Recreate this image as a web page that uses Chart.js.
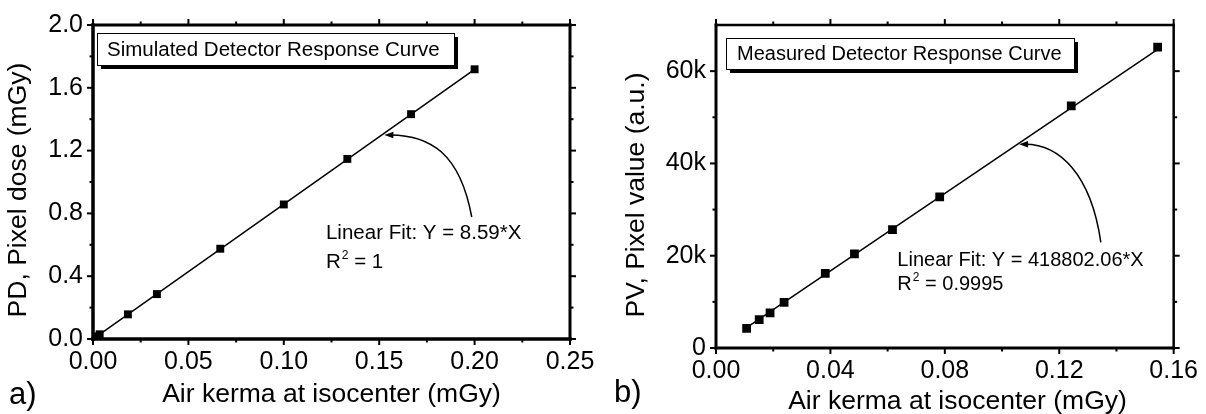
<!DOCTYPE html>
<html><head><meta charset="utf-8">
<script src="https://cdn.jsdelivr.net/npm/chart.js@4"></script>
<style>
html,body{margin:0;padding:0;background:#fff;}
#wrap{position:relative;width:1206px;height:414px;overflow:hidden;}
canvas{position:absolute;top:0;}
#c1{left:0;} #c2{left:603px;}
</style></head><body>
<div id="wrap"><canvas id="c1" width="603" height="414"></canvas><canvas id="c2" width="603" height="414"></canvas></div>
<script>
Chart.defaults.font.family = "'Liberation Sans', Arial, Helvetica, sans-serif";
Chart.defaults.color = '#000';

// ---------- Panel a) Simulated detector response ----------
const simKerma = [0.002, 0.0035, 0.0183, 0.0335, 0.0667, 0.1000, 0.1333, 0.1667, 0.2000];
const simDose  = [0.017, 0.030, 0.157, 0.286, 0.575, 0.857, 1.147, 1.432, 1.718];
const simFitKerma = [0.002, 0.2000];
const simFitDose  = [0.017, 1.718];
const simXRange = [0, 0.25];
const simYRange = [0, 2.0];
const simXTicks = [0, 0.05, 0.10, 0.15, 0.20, 0.25];
const simXTickLabels = ['0.00', '0.05', '0.10', '0.15', '0.20', '0.25'];
const simYTicks = [0, 0.4, 0.8, 1.2, 1.6, 2.0];
const simYTickLabels = ['0.0', '0.4', '0.8', '1.2', '1.6', '2.0'];

// ---------- Panel b) Measured detector response ----------
const measKerma = [0.0107, 0.0151, 0.0189, 0.0238, 0.0382, 0.0484, 0.0617, 0.0782, 0.1242, 0.1544];
const measPV    = [4230, 6140, 7620, 9880, 16150, 20380, 25670, 32740, 52490, 65190];
const measFitKerma = [0.0107, 0.1544];
const measFitPV    = [4400, 64700];
const measXRange = [0, 0.16];
const measYRange = [0, 70000];
const measXTicks = [0, 0.04, 0.08, 0.12, 0.16];
const measXTickLabels = ['0.00', '0.04', '0.08', '0.12', '0.16'];
const measYTicks = [0, 20000, 40000, 60000];
const measYTickLabels = ['0', '20k', '40k', '60k'];

function mids(arr) { const o = []; for (let i = 0; i < arr.length - 1; i++) o.push((arr[i] + arr[i + 1]) / 2); return o; }

const FONT = "'Liberation Sans', Arial, Helvetica, sans-serif";

function makeDecor(d) {
  return {
    id: 'decor',
    afterDraw(chart) {
      const ctx = chart.ctx, a = chart.chartArea, xs = chart.scales.x, ys = chart.scales.y;
      const X = v => xs.getPixelForValue(v), Y = v => ys.getPixelForValue(v);
      ctx.save();
      ctx.strokeStyle = '#000'; ctx.fillStyle = '#000';
      const seg = (x1, y1, x2, y2) => { ctx.beginPath(); ctx.moveTo(x1, y1); ctx.lineTo(x2, y2); ctx.stroke(); };
      // ticks on all four sides, pointing outward
      ctx.lineWidth = d.tickWidth; ctx.lineCap = 'butt';
      const xt = (vals, len) => vals.forEach(v => { const p = X(v); seg(p, a.bottom, p, a.bottom + len); seg(p, a.top, p, a.top - len); });
      const yt = (vals, len) => vals.forEach(v => { const p = Y(v); seg(a.left, p, a.left - len, p); seg(a.right, p, a.right + len, p); });
      xt(d.xMajor, d.majorLen); xt(mids(d.xMajor), d.minorLen);
      yt(d.yMajor, d.majorLen); yt(d.yMinor, d.minorLen);
      // frame
      ctx.lineCap = 'square';
      ctx.lineWidth = d.frame.top; seg(a.left, a.top, a.right, a.top);
      ctx.lineWidth = d.frame.right; seg(a.right, a.top, a.right, a.bottom);
      ctx.lineWidth = d.frame.left; seg(a.left, a.top, a.left, a.bottom);
      ctx.lineWidth = d.frame.bottom; seg(a.left, a.bottom, a.right, a.bottom);
      // legend-like title box with shadow
      const b = d.box, bx = a.left + b.dx, by = a.top + b.dy;
      ctx.fillStyle = '#000'; ctx.fillRect(bx + 4, by + 4, b.w, b.h);
      ctx.fillStyle = '#fff'; ctx.fillRect(bx, by, b.w, b.h);
      ctx.lineWidth = 1; ctx.strokeStyle = '#000';
      ctx.strokeRect(Math.round(bx) + 0.5, Math.round(by) + 0.5, b.w, b.h);
      ctx.fillStyle = '#000';
      ctx.font = b.font + 'px ' + FONT; ctx.textBaseline = 'middle'; ctx.textAlign = 'left';
      ctx.fillText(b.text, bx + b.pad, by + b.h / 2 + 1);
      // annotation text
      ctx.font = d.annFont + 'px ' + FONT;
      const t1 = d.ann.line1, t2 = d.ann.line2;
      ctx.fillText(t1.text, X(t1.x), Y(t1.y));
      let px = X(t2.x), py = Y(t2.y);
      ctx.fillText('R', px, py); px += ctx.measureText('R').width + 1;
      ctx.font = Math.round(d.annFont * 0.6) + 'px ' + FONT;
      ctx.fillText('2', px, py - 7); px += ctx.measureText('2').width;
      ctx.font = d.annFont + 'px ' + FONT;
      ctx.fillText(t2.rest, px, py);
      // curved arrow
      const P = d.arrow.map(p => [X(p[0]), Y(p[1])]);
      ctx.lineWidth = 1.5; ctx.lineCap = 'butt';
      ctx.beginPath(); ctx.moveTo(P[0][0], P[0][1]);
      ctx.bezierCurveTo(P[1][0], P[1][1], P[2][0], P[2][1], P[3][0] + 6, P[3][1]);
      ctx.stroke();
      const ang = Math.atan2(P[3][1] - P[2][1], P[3][0] - P[2][0]);
      const L = 9, W = 3.2;
      ctx.beginPath();
      ctx.moveTo(P[3][0], P[3][1]);
      ctx.lineTo(P[3][0] - L * Math.cos(ang) + W * Math.sin(ang), P[3][1] - L * Math.sin(ang) - W * Math.cos(ang));
      ctx.lineTo(P[3][0] - L * Math.cos(ang) - W * Math.sin(ang), P[3][1] - L * Math.sin(ang) + W * Math.cos(ang));
      ctx.closePath(); ctx.fill();
      // axis titles
      ctx.font = d.titleFont + 'px ' + FONT; ctx.textAlign = 'center'; ctx.textBaseline = 'middle';
      ctx.fillText(d.xTitle.text, d.xTitle.x, d.xTitle.y);
      ctx.save(); ctx.translate(d.yTitle.x, d.yTitle.y); ctx.rotate(-Math.PI / 2);
      ctx.fillText(d.yTitle.text, 0, 0); ctx.restore();
      // panel label
      ctx.font = d.panel.font + 'px ' + FONT; ctx.textAlign = 'left'; ctx.textBaseline = 'alphabetic';
      ctx.fillText(d.panel.text, d.panel.x, d.panel.y);
      ctx.restore();
    }
  };
}

function buildChart(id, cfg) {
  const pts = cfg.xs.map((x, i) => ({ x: x, y: cfg.ys[i] }));
  const fit = cfg.fx.map((x, i) => ({ x: x, y: cfg.fy[i] }));
  return new Chart(document.getElementById(id), {
    type: 'scatter',
    data: {
      datasets: [
        { type: 'line', data: fit, borderColor: '#000', borderWidth: 1.5, pointRadius: 0, showLine: true, fill: false, order: 2 },
        { data: pts, pointStyle: 'rect', pointRadius: cfg.pointRadius, backgroundColor: '#000', borderColor: '#000', borderWidth: 0, showLine: false, order: 1 }
      ]
    },
    options: {
      responsive: false, animation: false, events: [],
      layout: { padding: cfg.padding },
      plugins: { legend: { display: false }, tooltip: { enabled: false } },
      scales: {
        x: {
          type: 'linear', min: cfg.xRange[0], max: cfg.xRange[1],
          grid: { display: false, drawTicks: false }, border: { display: false },
          afterBuildTicks: s => { s.ticks = cfg.xTicks.map(v => ({ value: v })); },
          afterFit: s => { s.height = cfg.xAxisHeight; },
          ticks: { font: { size: 25 }, color: '#000', padding: 8, maxRotation: 0, autoSkip: false,
                   callback: (v, i) => cfg.xLabels[i] }
        },
        y: {
          type: 'linear', min: cfg.yRange[0], max: cfg.yRange[1],
          grid: { display: false, drawTicks: false }, border: { display: false },
          afterBuildTicks: s => { s.ticks = cfg.yTicks.map(v => ({ value: v })); },
          afterFit: s => { s.width = cfg.yAxisWidth; },
          ticks: { font: { size: 25 }, color: '#000', padding: 10, autoSkip: false,
                   callback: (v, i) => cfg.yLabels[i] }
        }
      }
    },
    plugins: [makeDecor(cfg.decor)]
  });
}

buildChart('c1', {
  xs: simKerma, ys: simDose, fx: simFitKerma, fy: simFitDose,
  xRange: simXRange, yRange: simYRange, xTicks: simXTicks, xLabels: simXTickLabels,
  yTicks: simYTicks, yLabels: simYTickLabels, pointRadius: 5.6,
  padding: { top: 20, right: 33, left: 0, bottom: 0 }, xAxisHeight: 75, yAxisWidth: 93,
  decor: {
    xMajor: simXTicks, yMajor: simYTicks, yMinor: mids(simYTicks),
    tickWidth: 2, majorLen: 6, minorLen: 3.5,
    frame: { left: 3.5, bottom: 3.5, top: 3, right: 3 },
    box: { dx: 4, dy: 8, w: 357, h: 32, pad: 10, font: 20.5, text: 'Simulated Detector Response Curve' },
    annFont: 20.5,
    ann: { line1: { x: 0.1221, y: 0.671, text: 'Linear Fit: Y = 8.59*X' },
           line2: { x: 0.1221, y: 0.489, rest: ' = 1' } },
    arrow: [[0.1985, 0.777], [0.1923, 1.185], [0.1766, 1.298], [0.1527, 1.300]],
    titleFont: 26.5,
    xTitle: { text: 'Air kerma at isocenter (mGy)', x: 331.5, y: 395 },
    yTitle: { text: 'PD, Pixel dose (mGy)', x: 19, y: 190 },
    panel: { text: 'a)', x: 9, y: 404, font: 31 }
  }
});

buildChart('c2', {
  xs: measKerma, ys: measPV, fx: measFitKerma, fy: measFitPV,
  xRange: measXRange, yRange: measYRange, xTicks: measXTicks, xLabels: measXTickLabels,
  yTicks: measYTicks, yLabels: measYTickLabels, pointRadius: 6.2,
  padding: { top: 19, right: 31, left: 0, bottom: 0 }, xAxisHeight: 66, yAxisWidth: 113,
  decor: {
    xMajor: measXTicks, yMajor: measYTicks, yMinor: [10000, 30000, 50000],
    tickWidth: 2, majorLen: 6, minorLen: 3.5,
    frame: { left: 3, bottom: 3, top: 2.5, right: 2.5 },
    box: { dx: 10, dy: 13, w: 348, h: 31, pad: 11, font: 20, text: 'Measured Detector Response Curve' },
    annFont: 20,
    ann: { line1: { x: 0.0634, y: 19065, text: 'Linear Fit: Y = 418802.06*X' },
           line2: { x: 0.0634, y: 13751, rest: ' = 0.9995' } },
    arrow: [[0.13454, 22890], [0.13106, 37768], [0.1199, 44144], [0.10596, 44144]],
    titleFont: 26.5,
    xTitle: { text: 'Air kerma at isocenter (mGy)', x: 354.5, y: 402 },
    yTitle: { text: 'PV, Pixel value (a.u.)', x: 34, y: 195 },
    panel: { text: 'b)', x: 11, y: 402, font: 31 }
  }
});
</script>
</body></html>
